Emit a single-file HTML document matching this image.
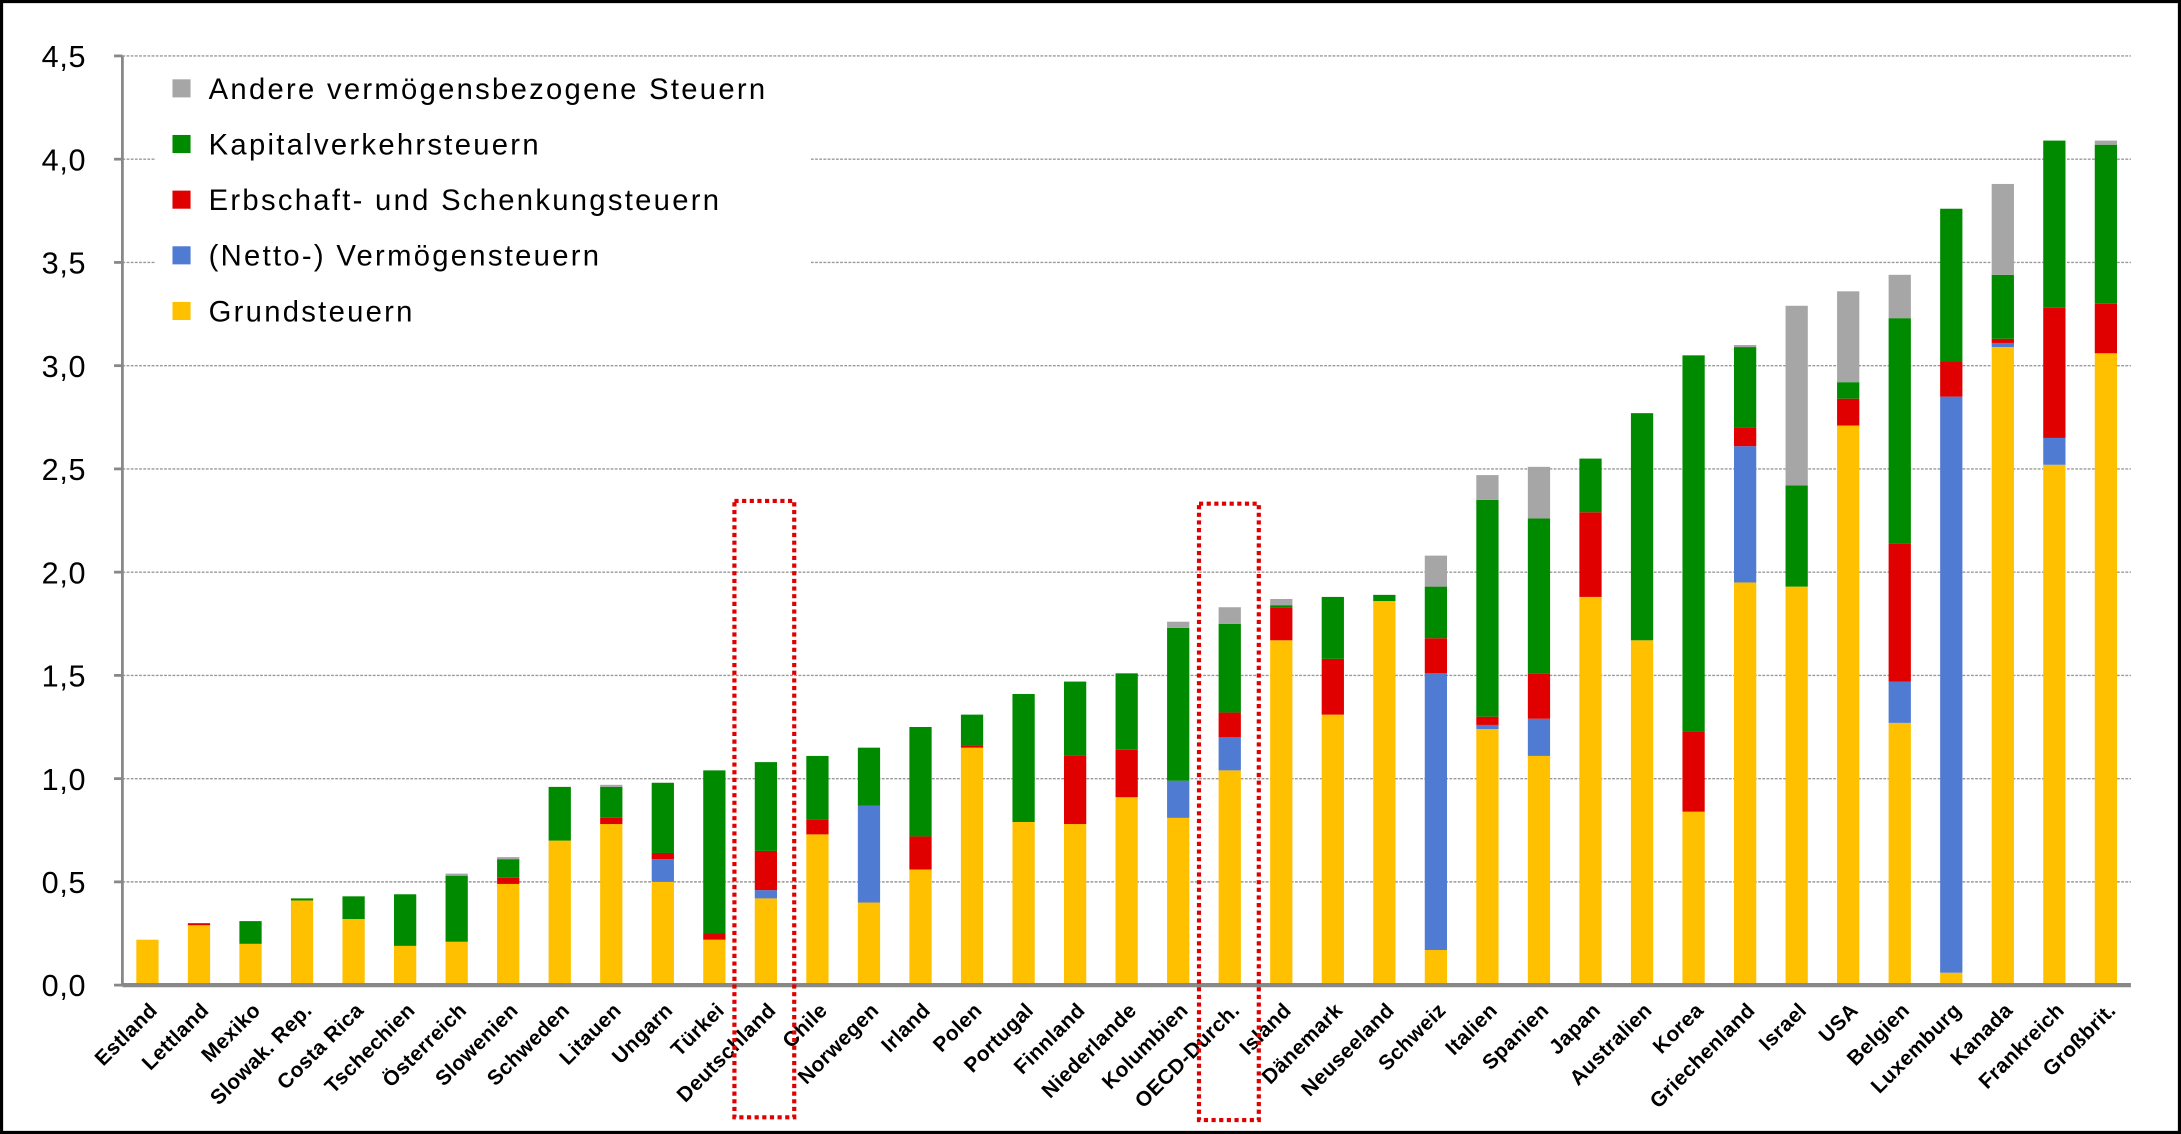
<!DOCTYPE html>
<html><head><meta charset="utf-8"><style>
html,body{margin:0;padding:0;background:#fff;}
svg{display:block;}
text{font-family:"Liberation Sans",sans-serif;}
</style></head><body>
<svg id="c" width="2181" height="1134" viewBox="0 0 1568 815" preserveAspectRatio="none" xmlns="http://www.w3.org/2000/svg">
<rect x="1" y="1" width="1566" height="813" fill="#fff" stroke="#000" stroke-width="2.5"/>
</svg>
<script>
var svg=document.getElementById('c'),NS='http://www.w3.org/2000/svg';
function el(t,a,txt){var e=document.createElementNS(NS,t);for(var k in a)e.setAttribute(k,a[k]);if(txt!=null)e.textContent=txt;svg.appendChild(e);return e;}
var y0=708,pu=148.4,ax=88,xr=1532;
function Y(v){return y0-v*pu;}
for(var i=1;i<=9;i++){var v=i*0.5;el('line',{x1:ax,x2:xr,y1:Y(v),y2:Y(v),stroke:'#999','stroke-width':1,'stroke-dasharray':'2,1'});}
for(var i=0;i<=9;i++){var v=i*0.5;el('line',{x1:ax-6,x2:ax,y1:Y(v),y2:Y(v),stroke:'#888','stroke-width':2});
el('text',{x:62,y:Y(v)+8,'text-anchor':'end','font-size':22,fill:'#000','letter-spacing':0.5},v.toFixed(1).replace('.',','));}
var C=['#FFC000','#4F7BD3','#E00000','#008A00','#A6A6A6'];
var d=[
['Estland',0.22,0.22,0.22,0.22,0.22],
['Lettland',0.29,0.29,0.30,0.30,0.30],
['Mexiko',0.2,0.2,0.2,0.31,0.31],
['Slowak. Rep.',0.41,0.41,0.41,0.42,0.42],
['Costa Rica',0.32,0.32,0.32,0.43,0.43],
['Tschechien',0.19,0.19,0.19,0.44,0.44],
['Österreich',0.21,0.21,0.21,0.53,0.54],
['Slowenien',0.49,0.49,0.52,0.61,0.62],
['Schweden',0.7,0.7,0.7,0.96,0.96],
['Litauen',0.78,0.78,0.81,0.96,0.97],
['Ungarn',0.5,0.61,0.64,0.98,0.98],
['Türkei',0.22,0.22,0.25,1.04,1.04],
['Deutschland',0.42,0.46,0.65,1.08,1.08],
['Chile',0.73,0.73,0.8,1.11,1.11],
['Norwegen',0.4,0.87,0.87,1.15,1.15],
['Irland',0.56,0.56,0.72,1.25,1.25],
['Polen',1.15,1.15,1.16,1.31,1.31],
['Portugal',0.79,0.79,0.79,1.41,1.41],
['Finnland',0.78,0.78,1.11,1.47,1.47],
['Niederlande',0.91,0.91,1.14,1.51,1.51],
['Kolumbien',0.81,0.99,0.99,1.73,1.76],
['OECD-Durch.',1.04,1.20,1.32,1.75,1.83],
['Island',1.67,1.67,1.83,1.84,1.87],
['Dänemark',1.31,1.31,1.58,1.88,1.88],
['Neuseeland',1.86,1.86,1.86,1.89,1.89],
['Schweiz',0.17,1.51,1.68,1.93,2.08],
['Italien',1.24,1.26,1.3,2.35,2.47],
['Spanien',1.11,1.29,1.51,2.26,2.51],
['Japan',1.88,1.88,2.29,2.55,2.55],
['Australien',1.67,1.67,1.67,2.77,2.77],
['Korea',0.84,0.84,1.23,3.05,3.05],
['Griechenland',1.95,2.61,2.7,3.09,3.1],
['Israel',1.93,1.93,1.93,2.42,3.29],
['USA',2.71,2.71,2.84,2.92,3.36],
['Belgien',1.27,1.47,2.14,3.23,3.44],
['Luxemburg',0.06,2.85,3.02,3.76,3.76],
['Kanada',3.09,3.11,3.13,3.44,3.88],
['Frankreich',2.52,2.65,3.28,4.09,4.09],
['Großbrit.',3.06,3.06,3.30,4.07,4.09]];
var sp=(1514-106)/38,bw=16;
el('rect',{x:112,y:46,width:470,height:200,fill:'#fff'});
d.forEach(function(r,i){var cx=106+i*sp,prev=0;
for(var k=0;k<5;k++){var t=r[k+1];if(t>prev){el('rect',{x:cx-bw/2,y:Y(t),width:bw,height:Y(prev)-Y(t),fill:C[k]});}prev=Math.max(prev,t);}
el('text',{x:cx+8,y:727,'text-anchor':'end','font-size':15,'font-weight':'bold','letter-spacing':0.3,transform:'rotate(-45 '+(cx+8)+' 727)'},r[0]);
});
el('line',{x1:ax,x2:ax,y1:Y(4.5),y2:y0,stroke:'#888','stroke-width':2});
el('line',{x1:ax,x2:xr,y1:y0,y2:y0,stroke:'#888','stroke-width':3});
var L=[['Andere vermögensbezogene Steuern',4],['Kapitalverkehrsteuern',3],['Erbschaft- und Schenkungsteuern',2],['(Netto-) Vermögensteuern',1],['Grundsteuern',0]];
L.forEach(function(l,i){var y=64+i*40;el('rect',{x:124,y:y-7,width:13,height:13,fill:C[l[1]]});
el('text',{x:150,y:y+7,'font-size':21,fill:'#000','letter-spacing':1.65},l[0]);});
[[528,360,571,803],[862,362,905,805]].forEach(function(b){el('rect',{x:b[0],y:b[1],width:b[2]-b[0],height:b[3]-b[1],fill:'none',stroke:'#E00000','stroke-width':3,'stroke-dasharray':'3,2.5'});});
</script>
</body></html>
